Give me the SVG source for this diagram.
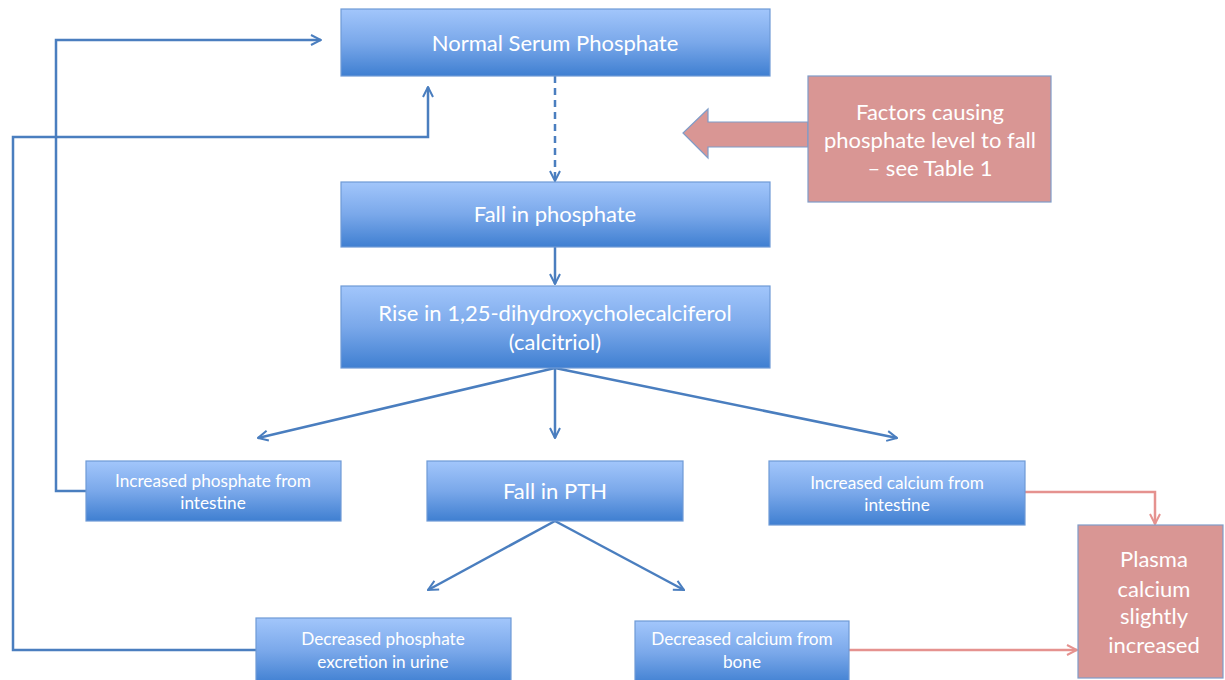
<svg xmlns="http://www.w3.org/2000/svg" width="1225" height="680" viewBox="0 0 1225 680">
<defs>
<linearGradient id="bg" x1="0" y1="0" x2="0" y2="1">
<stop offset="0" stop-color="#a2c6fb"/>
<stop offset="0.5" stop-color="#7aa8ea"/>
<stop offset="1" stop-color="#3f7fd1"/>
</linearGradient>
<marker id="ab" viewBox="0 0 12 12" refX="11" refY="6" markerWidth="12" markerHeight="12" markerUnits="userSpaceOnUse" orient="auto">
<path d="M1,1 L11,6 L1,11" fill="none" stroke="#4a7ebf" stroke-width="2"/>
</marker>
<marker id="ar" viewBox="0 0 12 12" refX="11" refY="6" markerWidth="12" markerHeight="12" markerUnits="userSpaceOnUse" orient="auto">
<path d="M1,1 L11,6 L1,11" fill="none" stroke="#e5928f" stroke-width="2"/>
</marker>
</defs>
<style>
.box{fill:url(#bg);stroke:#6e9ad6;stroke-width:1.2}
.red{fill:#d99694;stroke:#7f9cc8;stroke-width:1.2}
.t{font-family:Lato,"Liberation Sans",sans-serif;fill:#ffffff;text-anchor:middle}
.big{font-size:22px}
.sm{font-size:17.2px}
.lb{fill:none;stroke:#4a7ebf;stroke-width:2.5}
.lr{fill:none;stroke:#e5928f;stroke-width:2.5}
</style>
<rect width="1225" height="680" fill="#ffffff"/>
<g id="connectors">
<line class="lb" x1="555" y1="76" x2="555" y2="181" stroke-dasharray="7,5" marker-end="url(#ab)"/>
<line class="lb" x1="555" y1="247" x2="555" y2="284" marker-end="url(#ab)"/>
<line class="lb" x1="555" y1="368" x2="258" y2="438" marker-end="url(#ab)"/>
<line class="lb" x1="555" y1="368" x2="555" y2="438" marker-end="url(#ab)"/>
<line class="lb" x1="555" y1="368" x2="897" y2="438" marker-end="url(#ab)"/>
<line class="lb" x1="555" y1="521" x2="428" y2="590" marker-end="url(#ab)"/>
<line class="lb" x1="555" y1="521" x2="684" y2="590" marker-end="url(#ab)"/>
<polyline class="lb" points="86,491 56,491 56,40 321,40" marker-end="url(#ab)"/>
<polyline class="lb" points="256,650 13,650 13,137 428,137 428,87" marker-end="url(#ab)"/>
<polyline class="lr" points="1025,492 1155,492 1155,524" marker-end="url(#ar)"/>
<line class="lr" x1="849" y1="650" x2="1077" y2="650" marker-end="url(#ar)"/>
</g>
<g id="block-arrow">
<polygon class="red" points="808,122 708,122 708,109 683,133 708,158 708,147 808,147"/>
</g>
<g id="n-normal">
<rect class="box" x="341" y="9" width="429" height="67"/>
<text class="t big" x="555" y="51">Normal Serum Phosphate</text>
</g>
<g id="n-factors">
<rect class="red" x="808" y="76" width="243" height="126"/>
<text class="t big" x="930" y="120">Factors causing</text>
<text class="t big" x="930" y="148">phosphate level to fall</text>
<text class="t big" x="930" y="176">– see Table 1</text>
</g>
<g id="n-fall">
<rect class="box" x="341" y="182" width="429" height="65"/>
<text class="t big" x="555" y="222">Fall in phosphate</text>
</g>
<g id="n-rise">
<rect class="box" x="341" y="286" width="429" height="82"/>
<text class="t big" x="555" y="321">Rise in 1,25-dihydroxycholecalciferol</text>
<text class="t big" x="555" y="350">(calcitriol)</text>
</g>
<g id="n-incphos">
<rect class="box" x="86" y="461" width="255" height="60"/>
<text class="t sm" x="213" y="487">Increased phosphate from</text>
<text class="t sm" x="213" y="509">intestine</text>
</g>
<g id="n-pth">
<rect class="box" x="427" y="461" width="256" height="60"/>
<text class="t big" x="555" y="499">Fall in PTH</text>
</g>
<g id="n-inccal">
<rect class="box" x="769" y="461" width="256" height="64"/>
<text class="t sm" x="897" y="489">Increased calcium from</text>
<text class="t sm" x="897" y="511">intestine</text>
</g>
<g id="n-decphos">
<rect class="box" x="256" y="618" width="255" height="66"/>
<text class="t sm" x="383" y="645">Decreased phosphate</text>
<text class="t sm" x="383" y="668">excretion in urine</text>
</g>
<g id="n-deccal">
<rect class="box" x="635" y="621" width="214" height="64"/>
<text class="t sm" x="742" y="645">Decreased calcium from</text>
<text class="t sm" x="742" y="668">bone</text>
</g>
<g id="n-plasma">
<rect class="red" x="1078" y="525" width="145" height="153"/>
<text class="t big" x="1154" y="567">Plasma</text>
<text class="t big" x="1154" y="597">calcium</text>
<text class="t big" x="1154" y="624">slightly</text>
<text class="t big" x="1154" y="653">increased</text>
</g>
</svg>
